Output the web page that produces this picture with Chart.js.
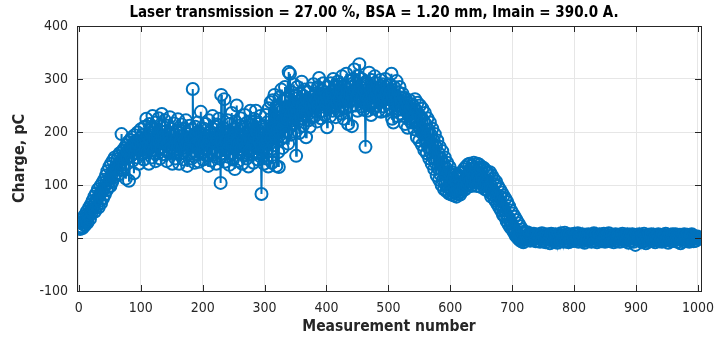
<!DOCTYPE html>
<html>
<head>
<meta charset="utf-8">
<script src="https://cdn.jsdelivr.net/npm/chart.js@4.4.1/dist/chart.umd.min.js"></script>
<style>
  html, body { margin: 0; padding: 0; background: #fff; }
  #wrap { width: 723px; height: 342px; }
</style>
</head>
<body>
<div id="wrap"><canvas id="chart-charge" width="723" height="342"></canvas></div>
<script>
var charge = [
    20,17,28,22,35,19,30,26,42,24,38,33,50,29,45,40,58,36,52,64,
    48,70,55,62,78,50,68,84,60,74,92,58,80,70,98,66,88,104,75,94,
    110,82,100,118,90,126,104,96,134,112,98,140,120,106,146,128,115,152,134,122,
    130,148,119,154,136,160,141,128,196,147,165,152,138,170,158,112,175,150,163,181,
    108,168,185,155,172,190,146,178,122,194,160,183,170,152,199,176,140,188,165,205,
    172,158,195,181,148,210,168,186,225,162,192,176,140,215,184,170,198,152,230,180,
    165,205,188,145,218,175,196,160,226,183,150,210,170,234,190,158,200,178,222,165,
    188,145,212,176,198,160,228,182,170,206,140,192,165,216,178,150,202,185,168,224,
    175,140,198,182,160,214,170,192,148,206,184,165,222,176,136,196,180,158,212,172,
    190,150,205,281,164,186,142,210,176,198,158,218,170,144,200,182,238,160,194,175,
    148,206,180,168,215,155,192,176,136,222,184,162,200,146,188,230,170,195,158,210,
    178,140,214,186,164,225,150,198,104,270,180,160,208,172,262,144,196,182,154,222,
    168,200,138,215,185,160,236,175,148,205,190,130,220,170,250,182,145,212,178,160,
    226,168,195,140,210,184,156,232,172,198,150,218,180,135,205,165,240,186,158,214,
    176,142,225,190,160,240,170,200,148,215,182,155,230,175,83,195,160,210,140,205,
    178,232,150,218,186,135,245,200,165,256,188,142,260,210,175,270,230,190,136,248,
    205,162,134,265,222,186,280,240,170,258,212,190,285,236,200,262,225,178,313,248,
    310,232,195,275,250,215,290,236,200,268,155,245,285,220,258,198,272,240,226,295,
    250,212,268,230,280,245,190,262,238,275,222,256,210,282,248,228,266,240,290,252,
    230,272,245,260,220,285,250,302,238,268,226,278,255,240,292,260,232,275,250,268,
    209,262,285,245,270,230,292,255,276,240,300,262,248,285,228,270,256,295,240,278,
    262,290,235,275,305,250,270,225,288,262,245,310,268,280,215,258,296,272,248,285,
    211,270,300,262,318,280,250,292,268,240,305,275,328,258,285,248,300,265,290,242,
    278,255,172,295,268,240,288,262,312,250,280,232,298,270,258,285,245,305,265,280,
    250,292,268,240,282,260,298,238,275,262,290,248,280,265,300,240,272,288,255,278,
    262,290,245,275,310,225,268,218,285,255,270,240,296,262,230,275,250,285,235,265,
    258,242,272,230,265,250,215,262,240,255,208,248,232,260,225,245,218,252,236,228,
    248,205,262,218,240,190,255,212,232,184,250,204,228,176,244,196,220,166,236,182,
    214,160,226,172,204,150,218,162,194,140,206,152,184,130,196,142,172,118,184,132,
    160,110,172,120,150,100,164,110,140,92,152,102,132,88,142,96,124,84,134,92,
    118,82,124,88,112,80,120,86,106,78,116,90,84,118,92,82,122,94,88,124,
    98,130,104,92,134,110,100,138,114,102,140,108,130,98,136,112,104,142,116,106,
    134,110,98,140,114,104,138,108,130,96,134,112,100,132,106,92,128,102,124,90,
    122,96,86,124,100,78,118,92,82,112,74,102,70,106,80,64,98,72,58,92,
    78,52,86,60,44,80,54,40,74,46,32,68,40,26,60,34,20,52,28,16,
    46,20,10,40,14,4,34,8,0,28,4,-4,22,0,-6,16,-2,-8,12,-2,
    9,0,4,11,-2,6,2,9,-5,4,0,7,-3,2,8,-1,3,-6,5,1,
    3,-5,7,0,-7,4,-2,9,1,-6,3,-1,6,-8,2,7,-3,0,5,-2,
    -10,3,8,-4,1,6,-7,2,-1,7,-3,4,-9,0,6,-2,3,-6,9,1,
    -2,5,-7,3,10,-1,2,-5,6,0,-8,3,7,-3,1,-6,5,2,-1,8,
    -5,2,6,-2,0,9,-7,3,1,-4,5,-1,7,-6,2,0,-9,3,6,-2,
    1,-5,7,2,-3,5,0,-7,6,-1,3,9,-5,1,-2,6,-8,2,5,-3,
    7,-1,2,-6,5,0,-3,8,1,-7,3,-2,6,-5,2,9,-1,-6,3,0,
    -3,6,1,-8,5,-2,7,0,-5,3,-1,6,2,-7,5,-3,1,8,-2,3,
    0,-6,5,2,-3,7,-1,-9,3,6,-2,1,-5,7,0,-7,2,5,-13,1,
    6,-3,2,-1,7,-5,0,3,-7,5,1,-2,8,-6,2,-10,3,0,-3,6,
    -1,5,-6,2,7,-2,0,-5,6,1,-8,3,-1,5,-3,7,0,-6,2,-2,
    3,-7,6,0,-2,5,-5,8,1,-3,2,-9,5,0,-1,6,-6,3,7,-2,
    -5,2,0,7,-3,1,-7,5,2,-2,6,-10,3,-1,5,0,-6,7,1,-3,
    2,-5,6,-1,3,-7,0,5,-2,7,-3,1,-6,3,0,2,-5,1,3,-1
];
var xTicks = [0, 100, 200, 300, 400, 500, 600, 700, 800, 900, 1000];
var yTicks = [-100, 0, 100, 200, 300, 400];

var titleText = 'Laser transmission = 27.00 %, BSA = 1.20 mm, Imain = 390.0 A.';
var fontFamily = "'Liberation Sans Narrow', 'DejaVu Sans Condensed', 'Liberation Sans', Arial, sans-serif";
var matlabBlue = '#0072BD';
var axisColor = '#262626';

var points = [];
for (var i = 0; i < charge.length; i++) {
    points.push({ x: i + 1, y: charge[i] });
}

// title sits a bit left of the axes centre in the original
var titlePlugin = {
    id: 'matlabTitle',
    afterDraw: function (chart) {
        var ctx = chart.ctx;
        ctx.save();
        ctx.fillStyle = '#000';
        ctx.font = 'bold 15px ' + fontFamily;
        ctx.textAlign = 'center';
        ctx.textBaseline = 'middle';
        ctx.fillText(titleText, 374, 13);
        ctx.restore();
    }
};

// box round the axes with inward ticks, like matlab
var boxPlugin = {
    id: 'matlabBox',
    afterDatasetsDraw: function (chart) {
        var ctx = chart.ctx;
        var a = chart.chartArea;
        var xs = chart.scales.x;
        var ys = chart.scales.y;
        var len = 6;
        ctx.save();
        ctx.strokeStyle = axisColor;
        ctx.lineWidth = 1;
        ctx.beginPath();
        xTicks.forEach(function (v) {
            var px = Math.round(xs.getPixelForValue(v)) + 0.5;
            ctx.moveTo(px, a.bottom);
            ctx.lineTo(px, a.bottom - len);
            ctx.moveTo(px, a.top);
            ctx.lineTo(px, a.top + len);
        });
        yTicks.forEach(function (v) {
            var py = Math.round(ys.getPixelForValue(v)) + 0.5;
            ctx.moveTo(a.left, py);
            ctx.lineTo(a.left + len, py);
            ctx.moveTo(a.right, py);
            ctx.lineTo(a.right - len, py);
        });
        ctx.stroke();
        ctx.strokeRect(Math.round(a.left) + 0.5, Math.round(a.top) + 0.5,
            Math.round(a.right - a.left), Math.round(a.bottom - a.top));
        ctx.restore();
    }
};

var chargeOptions = {
    type: 'line',
    data: {
        datasets: [
            {
                label: 'Charge',
                data: points,
                borderColor: matlabBlue,
                borderWidth: 2,
                pointRadius: 6,
                pointBorderWidth: 2,
                pointBorderColor: matlabBlue,
                pointBackgroundColor: 'rgba(0,0,0,0)',
                pointHoverRadius: 6,
                tension: 0,
                fill: false
            }
        ]
    },
    plugins: [boxPlugin, titlePlugin],
    options: {
        responsive: false,
        animation: false,
        events: [],
        layout: {
            autoPadding: false,
            padding: { left: 0, right: 12, top: 26, bottom: 0 }
        },
        plugins: {
            legend: { display: false },
            tooltip: { enabled: false },
            title: { display: false }
        },
        scales: {
            x: {
                type: 'linear',
                min: -3,
                max: 1005,
                afterBuildTicks: function (s) {
                    s.ticks = xTicks.map(function (v) { return { value: v }; });
                },
                afterFit: function (s) { s.height = 51; },
                grid: { color: '#e6e6e6', drawTicks: false },
                border: { display: false },
                ticks: {
                    color: axisColor,
                    padding: 9,
                    maxRotation: 0,
                    autoSkip: false,
                    font: { family: fontFamily, size: 14 },
                    callback: function (v) { return String(v); }
                },
                title: {
                    display: true,
                    text: 'Measurement number',
                    color: axisColor,
                    font: { family: fontFamily, size: 15.5, weight: 'bold', lineHeight: 1.2 },
                    padding: { top: 0, bottom: 6 }
                }
            },
            y: {
                type: 'linear',
                min: -100,
                max: 400,
                afterBuildTicks: function (s) {
                    s.ticks = yTicks.map(function (v) { return { value: v }; });
                },
                afterFit: function (s) { s.width = 77; },
                grid: { color: '#e6e6e6', drawTicks: false },
                border: { display: false },
                ticks: {
                    color: axisColor,
                    padding: 9,
                    autoSkip: false,
                    font: { family: fontFamily, size: 14 },
                    callback: function (v) { return String(v); }
                },
                title: {
                    display: true,
                    text: 'Charge, pC',
                    color: axisColor,
                    font: { family: fontFamily, size: 16, weight: 'bold', lineHeight: 1.2 },
                    padding: { top: 10, bottom: 0 }
                }
            }
        }
    }
};

var chargeCtx = document.getElementById('chart-charge');
var chargeChart = new Chart(chargeCtx, chargeOptions);
</script>
</body>
</html>
